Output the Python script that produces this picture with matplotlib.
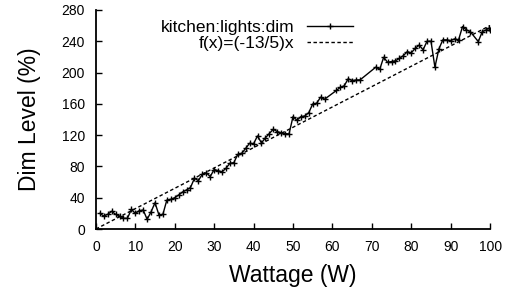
import numpy as np
import matplotlib
matplotlib.use("Agg")
import matplotlib.pyplot as plt

# ---------------- Data ----------------
watt = [1, 2, 3, 4, 5, 6, 7, 8, 9, 10,
        11, 12, 13, 14, 15, 16, 17, 18, 19, 20,
        21, 22, 23, 24, 25, 26, 27, 28, 29, 30,
        31, 32, 33, 34, 35, 36, 37, 38, 39, 40,
        41, 42, 43, 44, 45, 46, 47, 48, 49, 50,
        51, 52, 53, 54, 55, 56, 57, 58, 61, 62,
        63, 64, 65, 66, 67, 71, 72, 73, 74, 75,
        76, 77, 78, 79, 80, 81, 82, 83, 84, 85,
        86, 87, 88, 89, 90, 91, 92, 93, 94, 95,
        97, 98, 99, 99.6, 100]
dim = [20, 16.6, 18.8, 22.6, 18.8, 16.6, 13.7, 13.7, 25, 20,
       23.4, 24.3, 12.4, 22, 33.6, 17.9, 18.8, 37, 38, 40,
       43.5, 47.3, 50, 53, 64.8, 61.8, 70, 72, 67, 76,
       74.6, 73, 77.6, 84, 84.8, 95.5, 96.8, 103, 109.6, 109,
       119, 110, 116.5, 122, 127.5, 124.5, 123, 122, 121.5, 143.6,
       139, 143.6, 144.5, 148.7, 159.8, 160.7, 168.4, 165.8, 177, 181,
       183, 192, 189.6, 190.5, 190.5, 206.8, 204, 219.5, 213, 214,
       215, 218, 221.6, 226.7, 225, 231, 235, 229, 240, 240,
       206.8, 230, 241.7, 241.7, 240.8, 243, 241.7, 258.7, 254.5, 252,
       239.5, 252, 254.5, 256.6, 254.5]

# reference function f(x) = 2.6 x  (labelled "(-13/5)x" in the original)
fx_x = [0, 100]
slope = 13 / 5

x_ticks = list(range(0, 101, 10))
y_ticks = list(range(0, 281, 40))

# ---------------- Plot ----------------
plt.rcParams['font.family'] = ['Liberation Sans', 'DejaVu Sans']

fig = plt.figure(figsize=(5.10, 2.91), dpi=100)
ax = fig.add_axes([0.188, 0.213, 0.773, 0.753])

ax.plot(watt, dim, color='black', lw=1.0, marker='+', ms=5, mew=1.0,
        label='kitchen:lights:dim')
ax.plot(fx_x, [slope * v for v in fx_x], color='black', lw=1.0,
        linestyle=(0, (2.5, 1.8)), label='f(x)=(-13/5)x')

ax.set_xlim(0, 100)
ax.set_ylim(0, 280)
ax.set_xticks(x_ticks)
ax.set_yticks(y_ticks)
ax.tick_params(direction='in', length=4, width=1, labelsize=10, pad=8)

for side in ['top', 'right']:
    ax.spines[side].set_visible(False)
for side in ['left', 'bottom']:
    ax.spines[side].set_linewidth(1.3)

ax.set_xlabel('Wattage (W)', fontsize=16.5, labelpad=7)
ax.set_ylabel('Dim Level (%)', fontsize=16.5, labelpad=15)

ax.legend(loc='upper right', bbox_to_anchor=(0.652, 0.955), frameon=False,
          markerfirst=False, fontsize=12.5, handlelength=2.65,
          handletextpad=0.7, labelspacing=0.05, borderpad=0, borderaxespad=0)

fig.savefig('out.png', dpi=100)
